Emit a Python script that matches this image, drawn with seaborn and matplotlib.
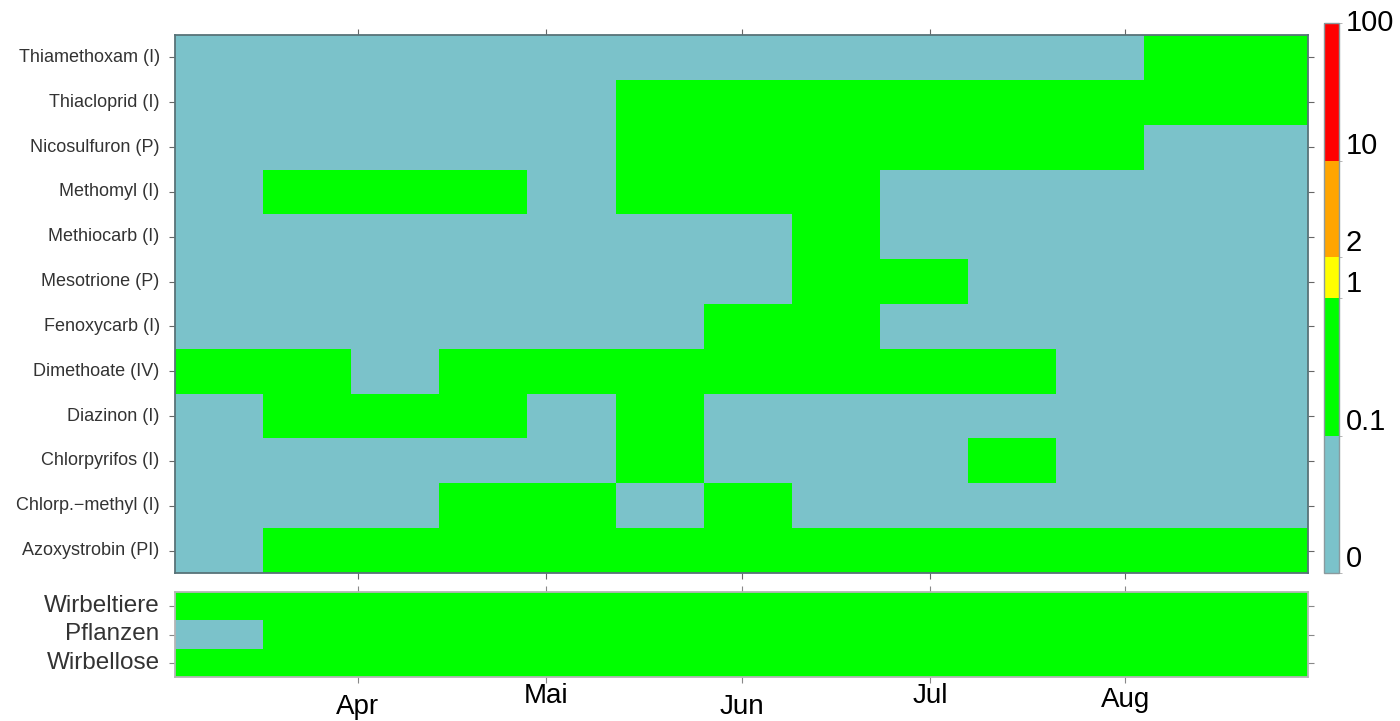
import numpy as np
import pandas as pd
import matplotlib
matplotlib.use("Agg")
import matplotlib.pyplot as plt
from matplotlib.colors import ListedColormap, BoundaryNorm
import matplotlib.colorbar as mcolorbar
import seaborn as sns

# ---- data -------------------------------------------------------------
# Exposure class per two-week period (0 = below 0.1, 1 = 0.1 - 1)
substances = [
    "Thiamethoxam (I)",
    "Thiacloprid (I)",
    "Nicosulfuron (P)",
    "Methomyl (I)",
    "Methiocarb (I)",
    "Mesotrione (P)",
    "Fenoxycarb (I)",
    "Dimethoate (IV)",
    "Diazinon (I)",
    "Chlorpyrifos (I)",
    "Chlorp.\u2212methyl (I)",
    "Azoxystrobin (PI)",
]
thiamethoxam   = [0, 0, 0, 0, 0, 0, 0, 0, 0, 0, 0, 1, 1]
thiacloprid    = [0, 0, 0, 0, 0, 1, 1, 1, 1, 1, 1, 1, 1]
nicosulfuron   = [0, 0, 0, 0, 0, 1, 1, 1, 1, 1, 1, 0, 0]
methomyl       = [0, 1, 1, 1, 0, 1, 1, 1, 0, 0, 0, 0, 0]
methiocarb     = [0, 0, 0, 0, 0, 0, 0, 1, 0, 0, 0, 0, 0]
mesotrione     = [0, 0, 0, 0, 0, 0, 0, 1, 1, 0, 0, 0, 0]
fenoxycarb     = [0, 0, 0, 0, 0, 0, 1, 1, 0, 0, 0, 0, 0]
dimethoate     = [1, 1, 0, 1, 1, 1, 1, 1, 1, 1, 0, 0, 0]
diazinon       = [0, 1, 1, 1, 0, 1, 0, 0, 0, 0, 0, 0, 0]
chlorpyrifos   = [0, 0, 0, 0, 0, 1, 0, 0, 0, 1, 0, 0, 0]
chlorp_methyl  = [0, 0, 0, 1, 1, 0, 1, 0, 0, 0, 0, 0, 0]
azoxystrobin   = [0, 1, 1, 1, 1, 1, 1, 1, 1, 1, 1, 1, 1]

groups = ["Wirbeltiere", "Pflanzen", "Wirbellose"]
wirbeltiere = [1, 1, 1, 1, 1, 1, 1, 1, 1, 1, 1, 1, 1]
pflanzen    = [0, 1, 1, 1, 1, 1, 1, 1, 1, 1, 1, 1, 1]
wirbellose  = [1, 1, 1, 1, 1, 1, 1, 1, 1, 1, 1, 1, 1]

# Colour classes and their limits
class_bounds = [0.01, 0.1, 1, 2, 10, 100]
class_labels = ["0", "0.1", "1", "2", "10", "100"]
class_colors = ["#7bc2ca", "#00ff00", "#ffff00", "#ffa500", "#ff0000"]

# Time axis: two-week periods starting early March
season_start = "2014-03-03"
period_days = 14
season_days = 180
month_starts = ["2014-04-01", "2014-05-01", "2014-06-01", "2014-07-01", "2014-08-01"]
month_labels = ["Apr", "Mai", "Jun", "Jul", "Aug"]

# ---- frames -----------------------------------------------------------
main_df = pd.DataFrame(
    [thiamethoxam, thiacloprid, nicosulfuron, methomyl, methiocarb, mesotrione,
     fenoxycarb, dimethoate, diazinon, chlorpyrifos, chlorp_methyl, azoxystrobin],
    index=substances,
)
group_df = pd.DataFrame([wirbeltiere, pflanzen, wirbellose], index=groups)

start = pd.Timestamp(season_start)
month_pos = [(pd.Timestamp(d) - start).days / period_days for d in month_starts]
x_end = season_days / period_days

# ---- figure -----------------------------------------------------------
sns.set_theme(style="ticks")
plt.rcParams["font.family"] = ["Liberation Sans", "DejaVu Sans"]

W, H = 1400, 721
fig = plt.figure(figsize=(W / 100, H / 100), dpi=100, facecolor="white")


def frac(left, top, right, bottom):
    return [left / W, 1 - bottom / H, (right - left) / W, (bottom - top) / H]


ax_main = fig.add_axes(frac(175, 35, 1308, 573))
ax_grp = fig.add_axes(frac(175, 592, 1308, 677))
cax = fig.add_axes(frac(1324, 23, 1339, 573))

cmap = ListedColormap(class_colors)
n_cls = len(class_colors)

for ax, df in ((ax_main, main_df), (ax_grp, group_df)):
    sns.heatmap(df, ax=ax, cmap=cmap, vmin=-0.5, vmax=n_cls - 0.5,
                cbar=False, xticklabels=False, yticklabels=True, linewidths=0)
    ax.set_xlim(0, x_end)
    ax.set_xticks(month_pos)
    ax.set_xlabel("")
    ax.set_ylabel("")

# main panel styling
for s in ax_main.spines.values():
    s.set_visible(True)
    s.set_color("#587378")
    s.set_linewidth(1.3)
ax_main.set_yticklabels(substances, rotation=0, fontsize=13, color="#333333")
ax_main.tick_params(axis="x", bottom=True, top=True, labelbottom=False, labeltop=False,
                    length=4, width=0.8, color="#666666", direction="out")
ax_main.tick_params(axis="y", left=True, right=True, labelleft=True, labelright=False,
                    length=4, width=0.8, color="#666666", pad=7, direction="out")

# group panel styling
for s in ax_grp.spines.values():
    s.set_visible(True)
    s.set_color("#b5b5b5")
    s.set_linewidth(1.3)
ax_grp.set_yticklabels(groups, rotation=0, fontsize=17.5, color="#333333")
ax_grp.set_xticklabels(month_labels, fontsize=20, color="black")
ax_grp.tick_params(axis="x", bottom=True, top=True, labelbottom=True, labeltop=False,
                   length=4, width=0.8, color="#888888", direction="out", pad=0)
ax_grp.tick_params(axis="y", left=True, right=True, labelleft=True, labelright=False,
                   length=4, width=0.8, color="#888888", pad=7, direction="out")
label_drop = [8, 0, 8, 0, 3]
for tick, d in zip(ax_grp.xaxis.get_major_ticks(), label_drop):
    tick.set_pad(d)

# colour scale (log spacing between class limits)
log_bounds = np.log10(class_bounds)
cb = mcolorbar.ColorbarBase(
    cax, cmap=cmap, norm=BoundaryNorm(log_bounds, n_cls),
    boundaries=log_bounds, spacing="proportional", ticks=log_bounds,
)
cb.outline.set_edgecolor("#8a9a9e")
cb.outline.set_linewidth(1.0)
cax.set_yticklabels(class_labels, fontsize=21, color="black")
cax.tick_params(axis="y", length=2, width=0.6, color="#aaaaaa", pad=3)
cbar_va = ["bottom", "bottom", "bottom", "bottom", "bottom", "center"]
for lab, va in zip(cax.get_yticklabels(), cbar_va):
    lab.set_verticalalignment(va)

fig.savefig("out.png", dpi=100, facecolor="white")
